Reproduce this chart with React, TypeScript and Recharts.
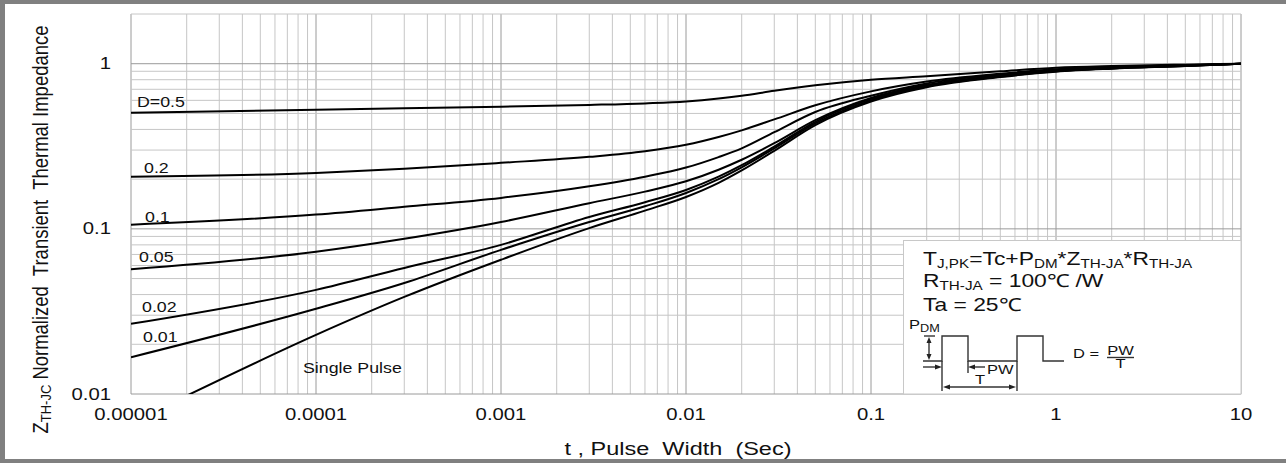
import React from 'react';
import { LineChart, Line, XAxis, YAxis, CartesianGrid, ReferenceLine } from 'recharts';

// pulse width (s) sample points
const pulseWidths = [1e-5, 1e-4, 3e-4, 1e-3, 3e-3, 6e-3, 1e-2, 1.5e-2, 2e-2, 3e-2, 5e-2, 0.1, 0.2, 0.5, 1, 2, 5, 10];
const singlePulseWidths = [1.9e-5, 1e-4, 3e-4, 1e-3, 3e-3, 6e-3, 1e-2, 1.5e-2, 2e-2, 3e-2, 5e-2, 0.1, 0.2, 0.5, 1, 2, 5, 10];

// normalized transient thermal impedance per duty cycle
const zD050 = [0.505, 0.526, 0.537, 0.549, 0.563, 0.575, 0.59, 0.615, 0.64, 0.685, 0.74, 0.8, 0.84, 0.9, 0.945, 0.968, 0.987, 1.0];
const zD020 = [0.207, 0.218, 0.231, 0.251, 0.273, 0.295, 0.323, 0.36, 0.395, 0.46, 0.56, 0.68, 0.78, 0.87, 0.925, 0.955, 0.98, 1.0];
const zD010 = [0.106, 0.122, 0.136, 0.154, 0.181, 0.207, 0.235, 0.272, 0.307, 0.385, 0.51, 0.64, 0.76, 0.86, 0.915, 0.95, 0.975, 1.0];
const zD005 = [0.057, 0.0726, 0.087, 0.11, 0.143, 0.168, 0.194, 0.228, 0.262, 0.33, 0.455, 0.62, 0.745, 0.85, 0.91, 0.945, 0.975, 1.0];
const zD002 = [0.0266, 0.0427, 0.058, 0.08, 0.118, 0.145, 0.172, 0.207, 0.243, 0.315, 0.445, 0.61, 0.735, 0.84, 0.905, 0.94, 0.972, 1.0];
const zD001 = [0.0167, 0.0328, 0.047, 0.0746, 0.11, 0.137, 0.165, 0.2, 0.236, 0.307, 0.435, 0.6, 0.728, 0.835, 0.9, 0.937, 0.97, 1.0];
const zSingle = [0.0095, 0.0228, 0.0387, 0.065, 0.101, 0.129, 0.156, 0.19, 0.226, 0.297, 0.425, 0.59, 0.72, 0.83, 0.895, 0.933, 0.968, 1.0];

const xTicks = [1e-5, 1e-4, 1e-3, 1e-2, 0.1, 1, 10];
const xTickLabels = ['0.00001', '0.0001', '0.001', '0.01', '0.1', '1', '10'];
const yTicks = [0.01, 0.1, 1];
const yTickLabels = ['0.01', '0.1', '1'];

const curveLabels = [
  { text: 'D=0.5', x: 137, y: 107 },
  { text: '0.2', x: 144, y: 173 },
  { text: '0.1', x: 145, y: 222 },
  { text: '0.05', x: 139, y: 262 },
  { text: '0.02', x: 142, y: 312 },
  { text: '0.01', x: 143, y: 342 },
  { text: 'Single Pulse', x: 303, y: 373 },
];

const toPoints = (ts: number[], zs: number[]) => ts.map((t, i) => ({ t, z: zs[i] }));
const series = [
  toPoints(pulseWidths, zD050),
  toPoints(pulseWidths, zD020),
  toPoints(pulseWidths, zD010),
  toPoints(pulseWidths, zD005),
  toPoints(pulseWidths, zD002),
  toPoints(pulseWidths, zD001),
  toPoints(singlePulseWidths, zSingle),
];

// log grid: decades dark, 2..9 light
const mult = [2, 3, 4, 5, 6, 7, 8, 9];
const minorX = [1e-5, 1e-4, 1e-3, 1e-2, 0.1, 1].flatMap((d) => mult.map((m) => +(m * d).toPrecision(3)));
const minorY = [...[0.01, 0.1].flatMap((d) => mult.map((m) => +(m * d).toPrecision(3))), 2];

const SX = 1.27; // text in the original is stretched horizontally
const FONT = 'Arial, "Liberation Sans", sans-serif';
const INK = '#111';
const MINOR = '#c6c6c6';
const MAJOR = '#9a9a9a';

const XTick = (p: any) => (
  <text transform={`translate(${p.x},${p.y}) scale(${SX},1)`} y={26} textAnchor="middle" fontSize={16} fill={INK} fontFamily={FONT}>
    {xTickLabels[xTicks.indexOf(p.payload.value)]}
  </text>
);

const YTick = (p: any) => (
  <text transform={`translate(${p.x},${p.y}) scale(${SX},1)`} y={5.5} textAnchor="end" fontSize={16} fill={INK} fontFamily={FONT}>
    {yTickLabels[yTicks.indexOf(p.payload.value)]}
  </text>
);

const S = ({ x, y, size, anchor = 'start', children }: any) => (
  <text transform={`translate(${x},${y}) scale(${SX},1)`} fontSize={size} textAnchor={anchor} fill={INK} fontFamily={FONT} style={{ whiteSpace: 'pre' }}>
    {children}
  </text>
);

const Arrow = ({ x, y, dir }: any) => {
  const pts: Record<string, string> = {
    up: `${x},${y} ${x - 2.5},${y + 6} ${x + 2.5},${y + 6}`,
    down: `${x},${y} ${x - 2.5},${y - 6} ${x + 2.5},${y - 6}`,
    right: `${x},${y} ${x - 7},${y - 2.5} ${x - 7},${y + 2.5}`,
    left: `${x},${y} ${x + 7},${y - 2.5} ${x + 7},${y + 2.5}`,
  };
  return <polygon points={pts[dir]} fill="#222" />;
};

export default function App() {
  return (
    <div style={{ position: 'absolute', left: 0, top: 0, width: 1286, height: 463, background: '#fff' }}>
      <LineChart width={1286} height={463} margin={{ top: 14, right: 45, bottom: 0, left: 0 }}>
        <CartesianGrid verticalValues={minorX} horizontal={false} stroke={MINOR} strokeWidth={1} />
        <CartesianGrid verticalValues={xTicks} horizontal={false} stroke={MAJOR} strokeWidth={1} />
        <XAxis
          dataKey="t"
          type="number"
          scale="log"
          domain={[1e-5, 10]}
          allowDataOverflow
          ticks={xTicks}
          interval={0}
          axisLine={false}
          tickLine={false}
          tickSize={0}
          tickMargin={0}
          height={69}
          tick={<XTick />}
        />
        <YAxis
          dataKey="z"
          type="number"
          scale="log"
          domain={[0.01, 2]}
          allowDataOverflow
          ticks={yTicks}
          interval={0}
          axisLine={false}
          tickLine={false}
          tickSize={0}
          tickMargin={20}
          width={131}
          tick={<YTick />}
        />
        {minorY.map((v) => (
          <ReferenceLine key={`m${v}`} y={v} stroke={MINOR} strokeWidth={1} />
        ))}
        {yTicks.map((v) => (
          <ReferenceLine key={`M${v}`} y={v} stroke={MAJOR} strokeWidth={1} />
        ))}
        {series.map((d, i) => (
          <Line key={i} data={d} dataKey="z" type="monotone" stroke="#000" strokeWidth={2} dot={false} isAnimationActive={false} />
        ))}
      </LineChart>

      <svg width={1286} height={463} style={{ position: 'absolute', left: 0, top: 0, pointerEvents: 'none' }}>
        {/* outer frame */}
        <rect x={0} y={0} width={1286} height={4} fill="#808080" />
        <rect x={0} y={459} width={1286} height={4} fill="#808080" />
        <rect x={0} y={0} width={5} height={463} fill="#808080" />

        {curveLabels.map((l) => (
          <S key={l.text} x={l.x} y={l.y} size={14}>{l.text}</S>
        ))}

        {/* axis titles */}
        <text transform="translate(47.5,229.5) rotate(-90) scale(1,1.15)" textAnchor="middle" fontSize={18.5} fill={INK} fontFamily={FONT} style={{ whiteSpace: 'pre' }}>
          Z<tspan fontSize={13} dy={3}>TH-JC</tspan><tspan dy={-3}> Normalized  Transient  Thermal Impedance</tspan>
        </text>
        <S x={678} y={455} size={18.5} anchor="middle">t , Pulse  Width  (Sec)</S>

        {/* note box */}
        <rect x={903.5} y={240.5} width={337.5} height={153.5} fill="#fff" stroke="#c8c8c8" strokeWidth={1} />
        <S x={923} y={265} size={18}>
          T<tspan fontSize={12} dy={3}>J,PK</tspan><tspan dy={-3}>=Tc+P</tspan><tspan fontSize={12} dy={3}>DM</tspan><tspan dy={-3}>*Z</tspan><tspan fontSize={12} dy={3}>TH-JA</tspan><tspan dy={-3}>*R</tspan><tspan fontSize={12} dy={3}>TH-JA</tspan>
        </S>
        <S x={923} y={287} size={18}>
          R<tspan fontSize={12} dy={3}>TH-JA</tspan><tspan dy={-3}> = 100℃ /W</tspan>
        </S>
        <S x={923} y={311} size={18}>Ta = 25℃</S>

        {/* pulse train sketch */}
        <S x={909} y={329} size={13}>
          P<tspan fontSize={10} dy={3}>DM</tspan>
        </S>
        <g stroke="#333" strokeWidth={1.4} fill="none">
          <polyline points="923,361 942,361 942,336 968,336 968,361 1017,361 1017,336 1043,336 1043,361 1064,361" />
          <line x1={924} y1={336} x2={935} y2={336} />
          <line x1={929} y1={341} x2={929} y2={356} />
          <line x1={942} y1={361} x2={942} y2={391} />
          <line x1={968} y1={361} x2={968} y2={373} />
          <line x1={1017} y1={361} x2={1017} y2={391} />
          <line x1={923} y1={367} x2={936} y2={367} />
          <line x1={974} y1={367} x2={985} y2={367} />
          <line x1={948} y1={387} x2={1011} y2={387} />
          <line x1={1107} y1={357.5} x2={1134} y2={357.5} />
        </g>
        <Arrow x={929} y={337} dir="up" />
        <Arrow x={929} y={360} dir="down" />
        <Arrow x={942} y={367} dir="right" />
        <Arrow x={968} y={367} dir="left" />
        <Arrow x={943} y={387} dir="left" />
        <Arrow x={1016} y={387} dir="right" />
        <S x={987} y={374} size={13}>PW</S>
        <S x={980} y={384} size={13} anchor="middle">T</S>
        <S x={1073} y={358} size={13}>D =</S>
        <S x={1120.5} y={355} size={13} anchor="middle">PW</S>
        <S x={1120.5} y={368} size={13} anchor="middle">T</S>
      </svg>
    </div>
  );
}
